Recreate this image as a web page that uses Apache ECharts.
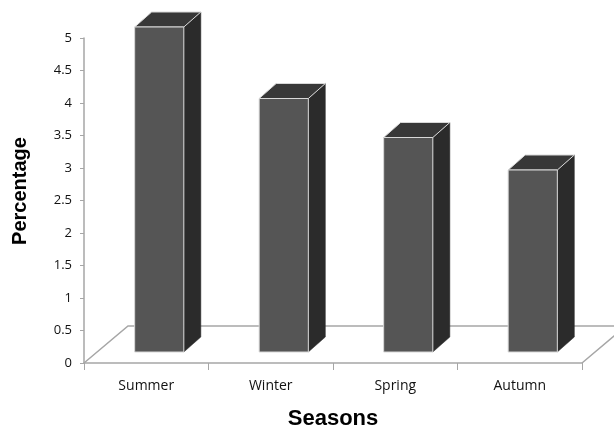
<!DOCTYPE html>
<html>
<head>
<meta charset="utf-8">
<script src="https://cdn.jsdelivr.net/npm/echarts@6/dist/echarts.min.js"></script>
<style>
  html, body { margin: 0; padding: 0; background: #fff; }
  #main { width: 614px; height: 430px; }
</style>
</head>
<body>
<div id="main"></div>
<script>
var seasons = ['Summer', 'Winter', 'Spring', 'Autumn'];
var percentages = [5.0, 3.9, 3.3, 2.8];

var myChart = echarts.init(document.getElementById('main'));

// fake 3d bar: front face sits a bit into the floor, side + top faces go back
function renderBar(params, api) {
    var idx = api.value(0);
    var base = api.coord([idx, 0]);
    var top = api.coord([idx, api.value(1)]);
    var band = api.size([1, 0])[0];
    var w = band * 0.395;
    var dx = 17, dy = -15;
    var x0 = base[0] + 13 - w / 2;
    var x1 = x0 + w;
    var yb = base[1] - 11;
    var yt = top[1] - 11;
    var children = [];

    if (params.dataIndex === 0) {
        var cs = params.coordSys;
        var bx = cs.x, by = cs.y + cs.height;
        children.push({
            type: 'polyline',
            shape: { points: [[bx, by], [bx + 44, by - 37], [bx + cs.width + 44, by - 37], [bx + cs.width, by]] },
            style: { stroke: '#a6a6a6', lineWidth: 1.5, fill: null }
        });
    }

    children.push({
        type: 'polygon',
        shape: { points: [[x1, yb], [x1, yt], [x1 + dx, yt + dy], [x1 + dx, yb + dy]] },
        style: { fill: '#2b2b2b', stroke: '#2b2b2b', lineWidth: 0.5 }
    });
    children.push({
        type: 'polygon',
        shape: { points: [[x0, yt], [x1, yt], [x1 + dx, yt + dy], [x0 + dx, yt + dy]] },
        style: { fill: '#383838', stroke: '#d8d8d8', lineWidth: 1 }
    });
    children.push({
        type: 'rect',
        shape: { x: x0, y: yt, width: w, height: yb - yt },
        style: { fill: '#555555', stroke: '#d8d8d8', lineWidth: 1 }
    });
    return { type: 'group', children: children };
}

var option = {
    backgroundColor: '#fff',
    animation: false,
    grid: { left: 84, right: 32, top: 38, bottom: 67, outerBoundsMode: 'none' },
    xAxis: {
        type: 'category',
        data: seasons,
        name: 'Seasons',
        nameLocation: 'middle',
        nameGap: 45,
        nameTextStyle: { fontFamily: 'Liberation Sans', fontWeight: 'bold', fontSize: 22, color: '#000' },
        axisLine: { lineStyle: { color: '#a6a6a6', width: 1.5 } },
        axisTick: { show: true, length: 7, lineStyle: { color: '#a6a6a6' } },
        axisLabel: { margin: 16, fontFamily: 'Open Sans', fontSize: 14, color: '#111' },
        splitLine: { show: false }
    },
    yAxis: {
        type: 'value',
        min: 0,
        max: 5,
        interval: 0.5,
        axisLine: { show: true, lineStyle: { color: '#a6a6a6', width: 1.5 } },
        axisTick: { show: true, length: 4, lineStyle: { color: '#a6a6a6' } },
        axisLabel: { margin: 12, fontFamily: 'Open Sans', fontSize: 13, color: '#111' },
        splitLine: { show: false }
    },
    graphic: [{
        type: 'text',
        x: 20,
        y: 191,
        rotation: Math.PI / 2,
        style: {
            text: 'Percentage',
            fontFamily: 'Liberation Sans',
            fontWeight: 'bold',
            fontSize: 20,
            fill: '#000',
            align: 'center',
            verticalAlign: 'middle'
        }
    }],
    series: [{
        type: 'custom',
        renderItem: renderBar,
        encode: { x: 0, y: 1 },
        data: percentages.map(function (v, i) { return [i, v]; })
    }]
};

myChart.setOption(option);
</script>
</body>
</html>
